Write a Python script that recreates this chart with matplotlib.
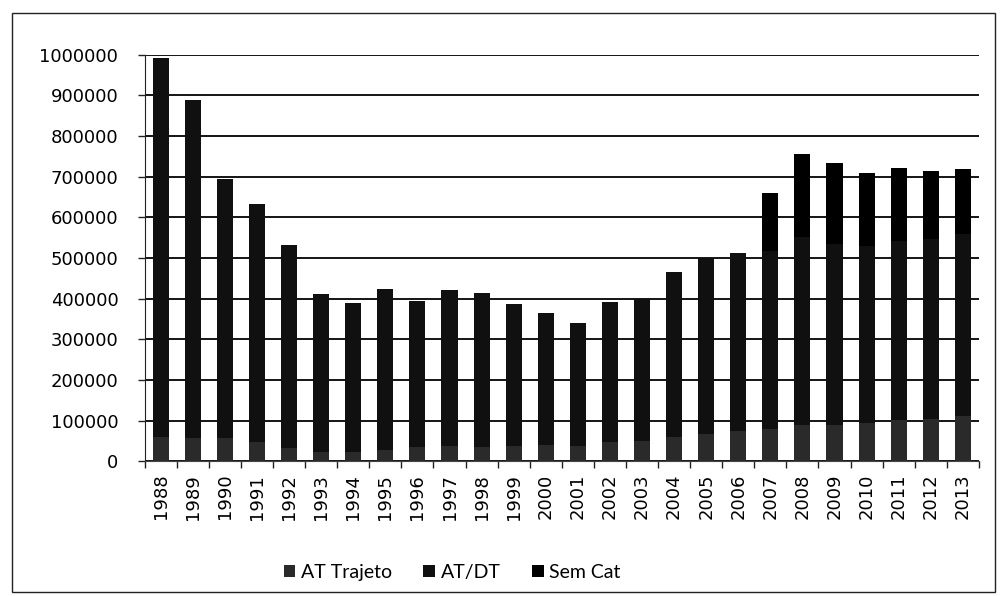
import matplotlib.pyplot as plt
from matplotlib.patches import Rectangle
import numpy as np

years = [str(y) for y in range(1988, 2014)]

# Acidentes registrados por ano
at_trajeto = [60202, 58524, 56343, 46679, 33299, 22709, 22824, 28791, 34696,
              37213, 36114, 37513, 39300, 38799, 46881, 49642, 60335, 67971,
              74636, 79005, 88742, 90180, 95321, 100897, 103040, 111601]
at_dt = [932535, 829919, 637229, 585643, 499215, 389584, 365480, 395346,
         360759, 384130, 378227, 350307, 324568, 301452, 346190, 349435,
         405365, 431709, 437596, 439410, 462281, 444068, 434472, 441337,
         443182, 447480]
sem_cat = [0] * 19 + [141108, 204957, 199117, 179681, 178395, 167762, 158830]

labels = ['AT Trajeto', 'AT/DT', 'Sem Cat']
colors = ['#2a2a2a', '#101010', '#000000']

fig = plt.figure(figsize=(10.05, 5.96), dpi=100)
ax = fig.add_axes([0.144, 0.226, 0.830, 0.682])

x = np.arange(len(years))
w = 0.5
b1 = np.array(at_trajeto)
b2 = b1 + np.array(at_dt)
ax.bar(x, at_trajeto, w, color=colors[0], label=labels[0], zorder=3)
ax.bar(x, at_dt, w, bottom=b1, color=colors[1], label=labels[1], zorder=3)
ax.bar(x, sem_cat, w, bottom=b2, color=colors[2], label=labels[2], zorder=3)

ax.set_xlim(-0.5, len(years) - 0.5)
ax.set_ylim(0, 1000000)
ax.set_yticks(range(0, 1000001, 100000))
ax.set_yticklabels([str(v) for v in range(0, 1000001, 100000)], fontsize=13)
ax.set_xticks(x)
ax.set_xticklabels(years, rotation=90, fontsize=13)
ax.set_xticks(np.arange(-0.5, len(years), 1), minor=True)
ax.tick_params(axis='x', which='major', length=0, pad=9)
ax.tick_params(axis='x', which='minor', length=5, width=1, color='#222222')
ax.tick_params(axis='y', length=5, width=1, color='#222222', pad=14)

ax.grid(axis='y', color='#141414', linewidth=1.4, zorder=0)
for side in ['top', 'right']:
    ax.spines[side].set_visible(False)
ax.spines['left'].set_color('#222222')
ax.spines['bottom'].set_color('#444444')

fig.legend(loc='center', bbox_to_anchor=(0.45, 0.04), ncol=3, frameon=False,
           handlelength=0.6, handleheight=0.6, handletextpad=0.3,
           columnspacing=1.6, prop={'family': 'Lato', 'size': 14})

fig.patches.append(Rectangle((0.012, 0.007), 0.978, 0.972, transform=fig.transFigure,
                             fill=False, edgecolor='#222222', linewidth=1))

fig.savefig('out.png', dpi=100)
